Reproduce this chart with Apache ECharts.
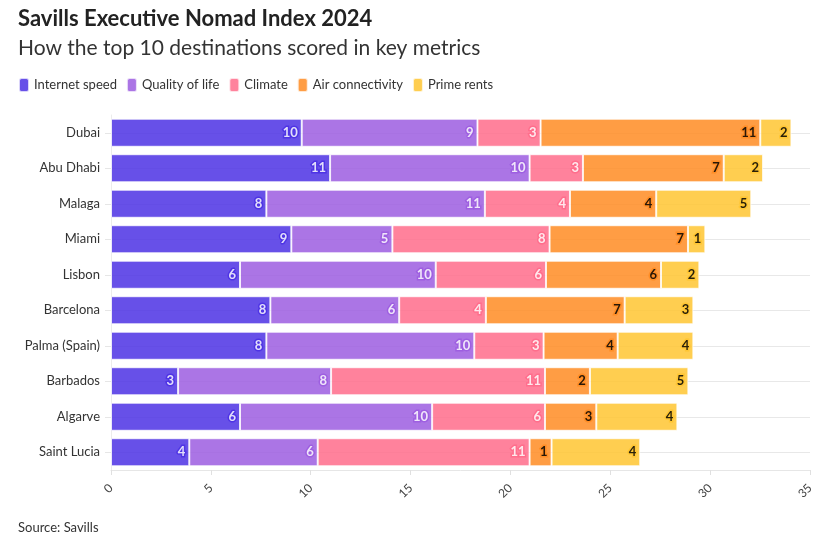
<!DOCTYPE html>
<html>
<head>
<meta charset="utf-8">
<script src="https://cdn.jsdelivr.net/npm/echarts@6/dist/echarts.min.js"></script>
<style>
html,body{margin:0;padding:0;background:#fff;}
#chart{width:836px;height:540px;}
</style>
</head>
<body>
<div id="chart"></div>
<script>
const categories = ['Dubai', 'Abu Dhabi', 'Malaga', 'Miami', 'Lisbon', 'Barcelona', 'Palma (Spain)', 'Barbados', 'Algarve', 'Saint Lucia'];
const internetSpeed = [9.55, 10.97, 7.78, 9.03, 6.46, 7.98, 7.78, 3.36, 6.46, 3.92];
const qualityOfLife = [8.8, 9.99, 10.94, 5.06, 9.8, 6.45, 10.41, 7.66, 9.62, 6.43];
const climate = [3.16, 2.67, 4.26, 7.87, 5.52, 4.34, 3.47, 10.71, 5.65, 10.61];
const airConnectivity = [11.0, 7.05, 4.32, 6.93, 5.76, 6.95, 3.71, 2.25, 2.57, 1.1];
const primeRents = [1.56, 1.97, 4.76, 0.87, 1.92, 3.44, 3.79, 4.93, 4.06, 4.44];
const xTicks = [0, 5, 10, 15, 20, 25, 30, 35];

const FONT = 'Lato';
const seriesDefs = [
  {name: 'Internet speed', data: internetSpeed, color: '#4a2ee3', text: '#fff'},
  {name: 'Quality of life', data: qualityOfLife, color: '#9b5ae0', text: '#fff'},
  {name: 'Climate', data: climate, color: '#ff6a89', text: '#fff'},
  {name: 'Air connectivity', data: airConnectivity, color: '#ff8a20', text: '#000'},
  {name: 'Prime rents', data: primeRents, color: '#ffc52e', text: '#000'}
];

const chart = echarts.init(document.getElementById('chart'), null, {renderer: 'canvas'});
const option = {
  backgroundColor: '#fff',
  textStyle: {fontFamily: FONT},
  animation: false,
  title: [
    {text: 'Savills Executive Nomad Index 2024', left: 13, top: 3,
     textStyle: {fontFamily: FONT, fontSize: 22, fontWeight: 'bold', color: '#222'}},
    {text: 'How the top 10 destinations scored in key metrics', left: 13, top: 33,
     textStyle: {fontFamily: FONT, fontSize: 21, fontWeight: 'normal', color: '#333'}},
    {text: 'Source: Savills', left: 13, top: 516,
     textStyle: {fontFamily: FONT, fontSize: 13, fontWeight: 'normal', color: '#333'}}
  ],
  legend: {
    left: 13, top: 72, itemWidth: 10, itemHeight: 14, itemGap: 9,
    icon: 'roundRect',
    textStyle: {fontFamily: FONT, fontSize: 13, color: '#333'},
    data: seriesDefs.map(s => s.name)
  },
  grid: {left: 111, right: 26, top: 115, bottom: 70, containLabel: false},
  xAxis: {
    type: 'value', min: 0, max: 35, interval: 5,
    axisLine: {show: true, lineStyle: {color: '#e6e6e6'}},
    axisTick: {show: true, length: 5, lineStyle: {color: '#e0e0e0'}},
    splitLine: {show: false},
    axisLabel: {rotate: 45, fontSize: 12, color: '#444', margin: 16, fontFamily: FONT,
      formatter: v => xTicks.includes(v) ? String(v) : ''}
  },
  yAxis: {
    type: 'category', data: categories, inverse: true,
    axisLine: {show: true, lineStyle: {color: '#ececec'}},
    axisTick: {show: true, alignWithLabel: true, length: 6, lineStyle: {color: '#e6e6e6'}},
    splitLine: {show: true, alignWithLabel: true, lineStyle: {color: '#e8e8e8'}},
    axisLabel: {fontSize: 13, color: '#333', margin: 11, fontFamily: FONT}
  },
  series: seriesDefs.map(s => ({
    name: s.name, type: 'bar', stack: 'total', data: s.data,
    barCategoryGap: '21%',
    color: s.color,
    itemStyle: {color: s.color, opacity: 0.84, borderColor: 'rgba(255,255,255,0.9)', borderWidth: 1},
    label: {
      show: true, position: 'insideRight', distance: 4,
      formatter: p => String(Math.round(p.value)),
      fontFamily: FONT, fontSize: 13, fontWeight: 'bold', color: s.text,
      textBorderColor: s.color, textBorderWidth: 3
    },
    emphasis: {disabled: true}
  }))
};
chart.setOption(option);
</script>
</body>
</html>
